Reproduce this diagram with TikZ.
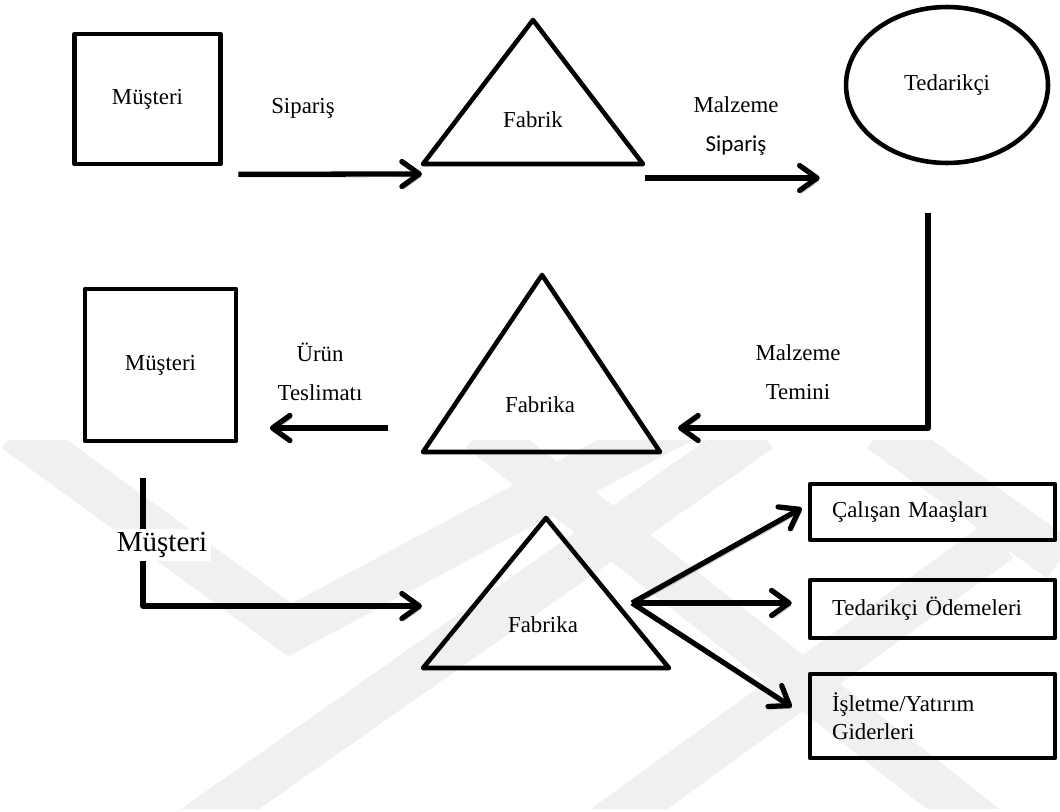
\documentclass[tikz,border=0pt]{standalone}
\usepackage{fontspec}
\setmainfont{Liberation Serif}
\newfontfamily\calibrifont{Carlito}
\usetikzlibrary{arrows.meta,calc,shapes.geometric}

\tikzset{
	shapeline/.style={draw, line width=2.6pt, line join=round},
	flow/.style={line width=3pt, line join=round, -{Straight Barb[length=3.5mm,width=5mm,round]},
		preaction={draw=black!25, transform canvas={shift={(1pt,-1.6pt)}}}},
	txt/.style={font=\fontsize{13}{15}\selectfont, inner sep=1pt},
	twoline/.style={font=\fontsize{13}{22}\selectfont, align=center, inner sep=1pt},
	costbox/.style={shapeline, minimum width=4.9cm, font=\fontsize{13}{16}\selectfont, text width=4.02cm, align=left, inner sep=0pt},
	wm/.style={line width=0.9cm, color=black!6},
}

\begin{document}
\begin{tikzpicture}[x=0.02cm, y=-0.02cm]
			\useasboundingbox (0,0) rectangle (1060,811);
			
			%%%%% WATERMARK %%%%%
			\begin{scope}
				\clip (0,440) rectangle (1060,808);
				\draw[wm] (15,430) -- (290,630) -- (720,400);
				\draw[wm] (190,830) -- (760,430);
				\draw[wm] (600,830) -- (1000,540);
				\draw[wm] (480,430) -- (990,830);
				\draw[wm] (880,430) -- (1060,560);
			\end{scope}
			
			%%%%% ROW 1 %%%%%
			\node[shapeline, txt, minimum width=2.92cm, minimum height=2.6cm] (must1) at (147.5,99) {Müşteri};
			
			\coordinate (fab1a) at (533,20);
			\coordinate (fab1l) at (423,164);
			\coordinate (fab1r) at (643,164);
			\draw[shapeline] (fab1a) -- (fab1l) -- (fab1r) -- cycle;
			\node[txt] (fab1) at (533,120) {Fabrik};
			
			\node[shapeline, ellipse, txt, minimum width=4.04cm, minimum height=3.12cm] (ted) at (947,85) {Tedarikçi};
			
			\node[txt] (sip) at (303,108) {Sipariş};
			\node[twoline] (malsip) at (736,126) {Malzeme\\{\calibrifont Sipariş}};
			
			\draw[flow] ([shift={(15.5,8)}]must1.south east) -- ([shift={(-1,10)}]fab1l);
			\draw[flow] ([shift={(2,14)}]fab1r) -- ([shift={(-24,93)}]ted.west);
			
			%%%%% ROW 2 %%%%%
			\node[shapeline, txt, minimum width=3.02cm, minimum height=3.04cm] (must2) at (160.5,365) {Müşteri};
			
			\coordinate (fab2a) at (542,275);
			\coordinate (fab2l) at (423,452);
			\coordinate (fab2r) at (660,452);
			\draw[shapeline] (fab2a) -- (fab2l) -- (fab2r) -- cycle;
			\node[txt] (fab2) at (540,405) {Fabrika};
			
			\node[twoline] (urun) at (320,372) {Ürün\\Teslimatı};
			\node[twoline] (temin) at (798,372) {Malzeme\\Temini};
			
			\draw[flow] ([shift={(-19,48)}]ted.south) |- ([shift={(18,-24)}]fab2r);
			\draw[flow] ([shift={(-35,-24)}]fab2l) -- ([shift={(31.5,63)}]must2.east);
			
			%%%%% ROW 3 %%%%%
			\coordinate (fab3a) at (546,518);
			\coordinate (fab3l) at (423,668);
			\coordinate (fab3r) at (669,668);
			\draw[shapeline] (fab3a) -- (fab3l) -- (fab3r) -- cycle;
			\node[txt] (fab3) at (543,625) {Fabrika};
			
			\draw[flow] ([shift={(-17.5,35)}]must2.south) |- ([shift={(-1,-62)}]fab3l);
			\node[font=\fontsize{16.5}{19}\selectfont, fill=white, inner sep=2pt] (must3) at (162,545) {Müşteri};
			
			\node[costbox, minimum height=1.12cm] (maas) at (932.5,512) {Çalışan Maaşları};
			\node[costbox, minimum height=1.16cm] (odeme) at (932.5,609) {Tedarikçi Ödemeleri};
			\node[costbox, minimum height=1.68cm] (gider) at (932.5,716) {İşletme/Yatırım\\Giderleri};
			
			\coordinate (split) at (632,603);
			\draw[flow] (split) -- ([shift={(-6,-4)}]maas.west);
			\draw[flow] (split) -- ([shift={(-16,-6)}]odeme.west);
			\draw[flow] (split) -- ([shift={(-16,-9)}]gider.west);
			
\end{tikzpicture}
\end{document}
